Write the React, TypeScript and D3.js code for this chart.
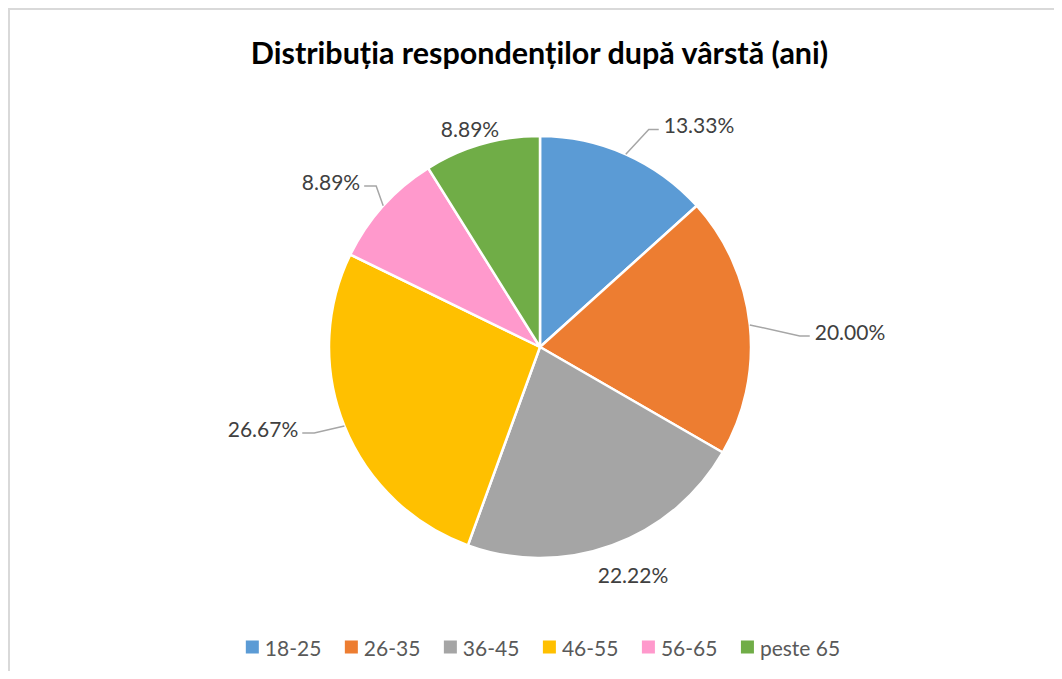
import React from "react";
import * as d3 from "d3";

const title = "Distribuția respondenților după vârstă (ani)";
const categories = ["18-25", "26-35", "36-45", "46-55", "56-65", "peste 65"];
const shares = [13.33, 20.0, 22.22, 26.67, 8.89, 8.89];
const colors = ["#5B9BD5", "#ED7D31", "#A5A5A5", "#FFC000", "#FF99CC", "#70AD47"];

const FONT = "Lato, 'Open Sans', sans-serif";

function measure(text: string, size: number, weight = "normal") {
  if (typeof document === "undefined") return text.length * size * 0.5;
  const c = document.createElement("canvas");
  const ctx = c.getContext("2d");
  if (!ctx) return text.length * size * 0.5;
  ctx.font = `${weight} ${size}px Lato`;
  return ctx.measureText(text).width;
}

export default function App() {
  const W = 1054;
  const H = 663;
  const cx = 540;
  const cy = 347;
  const r = 211;

  // label layout (Excel "best fit" placement), offsets of label centres from the pie centre
  const labelLayout: { dx: number; dy: number; leader: boolean }[] = [
    { dx: 159, dy: -222.5, leader: true },
    { dx: 310, dy: -16, leader: true },
    { dx: 93, dy: 227.5, leader: false },
    { dx: -277, dy: 81, leader: true },
    { dx: -209, dy: -166, leader: true },
    { dx: -70, dy: -219, leader: false },
  ];

  const pie = d3
    .pie<number>()
    .sort(null)
    .value((d) => d)
    .startAngle(0)
    .endAngle(2 * Math.PI);
  const arcs = pie(shares);
  const arc = d3.arc<d3.PieArcDatum<number>>().innerRadius(0).outerRadius(r);

  const labelSize = 21;
  const legendSize = 21;
  const sq = 13;
  const sqGap = 6;
  const itemGap = 23.5;
  const widths = categories.map((c) => measure(c, legendSize));
  const itemW = widths.map((w) => sq + sqGap + w);
  const total = d3.sum(itemW) + itemGap * (categories.length - 1);
  let lx = 543 - total / 2;
  const legendX: number[] = [];
  itemW.forEach((w) => {
    legendX.push(lx);
    lx += w + itemGap;
  });
  const legendY = 647;

  return (
    <svg width={W} height={H} style={{ display: "block", overflow: "hidden" }}>
      <g transform="translate(-8,-8)">
        <rect x={8} y={8} width={1200} height={800} fill="#fff" />
        <rect x={9} y={9} width={1200} height={800} fill="none" stroke="#d9d9d9" strokeWidth={2} />
        <text
          x={539.5}
          y={52}
          textAnchor="middle"
          dominantBaseline="central"
          fontFamily={FONT}
          fontWeight="bold"
          fontSize={30.5}
          fill="#000"
        >
          {title}
        </text>
        <g transform={`translate(${cx},${cy})`}>
          {arcs.map((a, i) => (
            <path key={i} d={arc(a) || ""} fill={colors[i]} stroke="#fff" strokeWidth={2.5} strokeLinejoin="round" />
          ))}
          {arcs.map((a, i) => {
            const L = labelLayout[i];
            const txt = a.data.toFixed(2) + "%";
            const tw = measure(txt, labelSize);
            const mid = (a.startAngle + a.endAngle) / 2;
            const ex = r * Math.sin(mid);
            const ey = -r * Math.cos(mid);
            const right = L.dx > 0;
            const endX = right ? L.dx - tw / 2 - 5 : L.dx + tw / 2 + 4;
            const endY = L.dy + 5;
            const elbowX = right ? endX - 10 : endX + 12;
            return (
              <g key={i}>
                {L.leader && (
                  <polyline
                    points={`${ex},${ey} ${elbowX},${endY} ${endX},${endY}`}
                    fill="none"
                    stroke="#A6A6A6"
                    strokeWidth={1.5}
                  />
                )}
                <text
                  x={L.dx}
                  y={L.dy}
                  textAnchor="middle"
                  dominantBaseline="central"
                  fontFamily={FONT}
                  fontSize={labelSize}
                  fill="#404040"
                >
                  {txt}
                </text>
              </g>
            );
          })}
        </g>
        <g>
          {categories.map((c, i) => (
            <g key={c}>
              <rect x={legendX[i]} y={legendY - sq / 2} width={sq} height={sq} fill={colors[i]} />
              <text
                x={legendX[i] + sq + sqGap}
                y={legendY}
                dominantBaseline="central"
                fontFamily={FONT}
                fontSize={legendSize}
                fill="#595959"
              >
                {c}
              </text>
            </g>
          ))}
        </g>
      </g>
    </svg>
  );
}
